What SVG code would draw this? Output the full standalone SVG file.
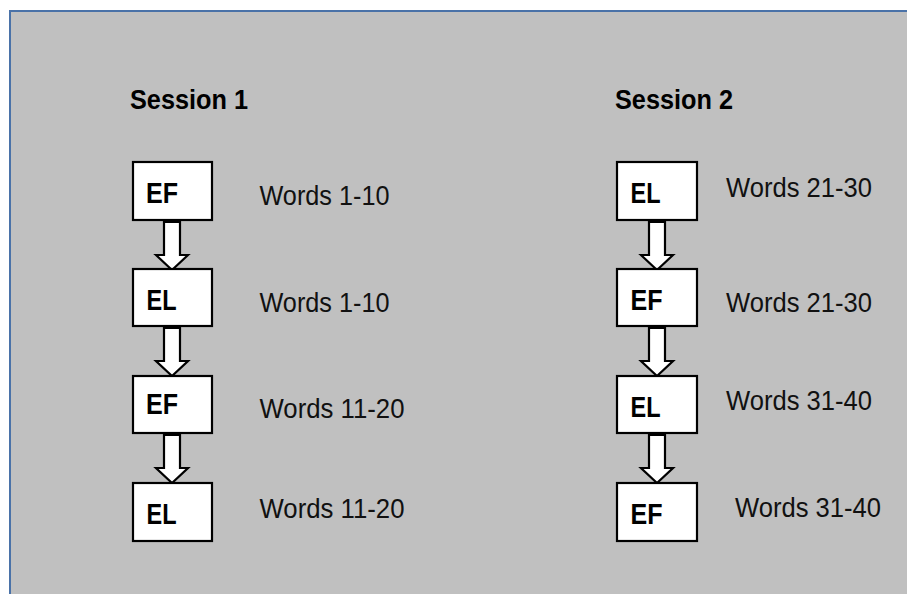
<svg xmlns="http://www.w3.org/2000/svg" width="907" height="594" viewBox="0 0 907 594">
<style>
.bg{fill:#c0c0c0;stroke:#4a72a8;stroke-width:2}
.box{fill:#ffffff;stroke:#000000;stroke-width:2.2}
.arrow{fill:#ffffff;stroke:#000000;stroke-width:2.2;stroke-linejoin:miter}
.h{font-family:"Liberation Sans",Arial,sans-serif;font-weight:bold;font-size:28px;fill:#000}
.lbl{font-family:"Liberation Sans",Arial,sans-serif;font-weight:bold;font-size:30px;fill:#000}
.w{font-family:"Liberation Sans",Arial,sans-serif;font-size:27px;fill:#111}
</style>
<defs>
<path id="arr" class="arrow" d="M-8,0 H8 V33 H16 L0,48 L-16,33 H-8 Z"/>
</defs>
<rect width="907" height="594" fill="#ffffff"/>
<rect class="bg" x="10" y="11" width="910" height="600"/>
<text class="h" x="130" y="109" textLength="118" lengthAdjust="spacingAndGlyphs">Session 1</text>
<text class="h" x="615" y="109" textLength="118" lengthAdjust="spacingAndGlyphs">Session 2</text>
<g id="connectors">
<use href="#arr" x="172" y="222"/>
<use href="#arr" x="172" y="328"/>
<use href="#arr" x="172" y="435"/>
<use href="#arr" x="657" y="222"/>
<use href="#arr" x="657" y="328"/>
<use href="#arr" x="657" y="435"/>
</g>
<g id="s1-ef1"><rect class="box" x="133" y="162" width="79" height="58"/><text class="lbl" x="146" y="203" textLength="32" lengthAdjust="spacingAndGlyphs">EF</text></g>
<g id="s1-el1"><rect class="box" x="133" y="269" width="79" height="57"/><text class="lbl" x="146.5" y="310" textLength="30" lengthAdjust="spacingAndGlyphs">EL</text></g>
<g id="s1-ef2"><rect class="box" x="133" y="376" width="79" height="57"/><text class="lbl" x="146" y="414" textLength="32" lengthAdjust="spacingAndGlyphs">EF</text></g>
<g id="s1-el2"><rect class="box" x="133" y="483" width="79" height="58"/><text class="lbl" x="146.5" y="524" textLength="30" lengthAdjust="spacingAndGlyphs">EL</text></g>
<g id="s2-el1"><rect class="box" x="617" y="162" width="80" height="58"/><text class="lbl" x="630.5" y="203" textLength="30" lengthAdjust="spacingAndGlyphs">EL</text></g>
<g id="s2-ef1"><rect class="box" x="617" y="269" width="80" height="57"/><text class="lbl" x="630.5" y="310" textLength="32" lengthAdjust="spacingAndGlyphs">EF</text></g>
<g id="s2-el2"><rect class="box" x="617" y="376" width="80" height="57"/><text class="lbl" x="630.5" y="417" textLength="30" lengthAdjust="spacingAndGlyphs">EL</text></g>
<g id="s2-ef2"><rect class="box" x="617" y="483" width="80" height="58"/><text class="lbl" x="630.5" y="524" textLength="32" lengthAdjust="spacingAndGlyphs">EF</text></g>
<text class="w" x="259.5" y="205" textLength="130" lengthAdjust="spacingAndGlyphs">Words 1-10</text>
<text class="w" x="259.5" y="312" textLength="130" lengthAdjust="spacingAndGlyphs">Words 1-10</text>
<text class="w" x="259.5" y="418" textLength="145" lengthAdjust="spacingAndGlyphs">Words 11-20</text>
<text class="w" x="259.5" y="518" textLength="145" lengthAdjust="spacingAndGlyphs">Words 11-20</text>
<text class="w" x="726" y="197" textLength="146" lengthAdjust="spacingAndGlyphs">Words 21-30</text>
<text class="w" x="726" y="312" textLength="146" lengthAdjust="spacingAndGlyphs">Words 21-30</text>
<text class="w" x="726" y="410" textLength="146" lengthAdjust="spacingAndGlyphs">Words 31-40</text>
<text class="w" x="735" y="517" textLength="146" lengthAdjust="spacingAndGlyphs">Words 31-40</text>
</svg>
